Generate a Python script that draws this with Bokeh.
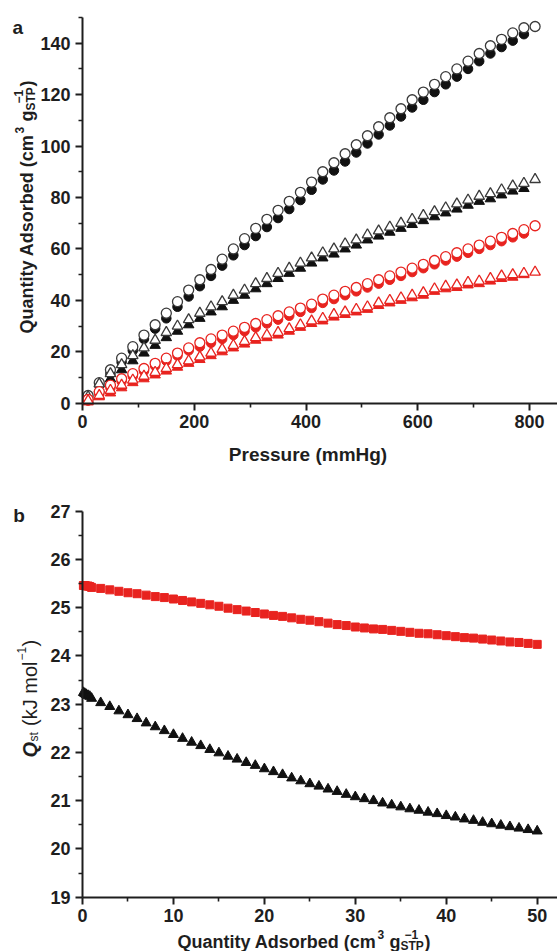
import math
from bokeh.plotting import figure
from bokeh.layouts import column
from bokeh.models import Range1d, FixedTicker, Label
from bokeh.embed import file_html
from bokeh.resources import INLINE

# ---------------- panel a data ----------------
P_OPEN = [10, 30, 50, 70, 90, 110, 130, 150, 170, 190, 210, 230, 250, 270, 290, 310, 330, 350, 370, 390,
          410, 430, 450, 470, 490, 510, 530, 550, 570, 590, 610, 630, 650, 670, 690, 710, 730, 750, 770, 790, 810]
P_FILLED = [10, 30, 50, 70, 90, 110, 130, 150, 170, 190, 210, 230, 250, 270, 290, 310, 330, 350, 370, 390,
            410, 430, 450, 470, 490, 510, 530, 550, 570, 590, 610, 630, 650, 670, 690, 710, 730, 750, 770, 790]

BLACK_OPEN_CIRCLE = [3, 8, 13, 17.5, 22, 26.5, 30.5, 35, 39.5, 44, 48, 52, 56, 60, 64, 68, 71.5, 75, 78.5, 82,
                     86, 90, 93.5, 97, 100.5, 104, 107.5, 111, 114.5, 118, 121, 124, 127, 130, 133, 136, 139,
                     141.5, 144, 146, 146.5]
BLACK_FILLED_CIRCLE = [2.5, 7, 11.5, 16, 20.5, 25, 29, 33, 37.5, 41.5, 45.5, 49.5, 53.5, 57.5, 61.5, 65, 68.5,
                       72, 75.5, 79, 83, 87, 90.5, 94, 97.5, 101, 104.5, 108, 111.5, 115, 118, 121, 124, 127,
                       130, 133, 136, 138.5, 141, 143.5]
BLACK_OPEN_TRI = [2.5, 7.5, 11.5, 15, 18.5, 21.5, 24.5, 27.5, 30, 32.5, 35, 37.5, 39.5, 42, 44, 46.5, 48.5, 50.5,
                  52.5, 54.5, 56.5, 58.5, 60, 62, 63.5, 65.5, 67, 68.5, 70, 71.5, 73, 74.5, 76, 77.5, 79, 80.5,
                  81.5, 83, 84.5, 85.5, 87]
BLACK_FILLED_TRI = [1.5, 5.5, 9.5, 13, 16.5, 19.5, 22.5, 25.5, 28, 30.5, 33, 35.5, 37.5, 40, 42, 44.5, 46.5, 48.5,
                    50.5, 52.5, 54.5, 56.5, 58, 60, 61.5, 63.5, 65, 66.5, 68, 69.5, 71, 72.5, 74, 75.5, 77, 78.5,
                    79.5, 81, 82.5, 83.5]
RED_OPEN_CIRCLE = [1.5, 4.5, 7, 9.5, 11.5, 13.5, 15.5, 17.5, 19.5, 21.5, 23.5, 25, 26.5, 28, 29.5, 31, 32.5, 34,
                   35.5, 37, 38.5, 40.5, 42, 43.5, 45, 46.5, 48, 49.5, 51, 52.5, 54, 55.5, 57, 58.5, 60, 61.5,
                   63, 64.5, 66, 67.5, 69]
RED_FILLED_CIRCLE = [1, 3.5, 6, 8.5, 10.5, 12.5, 14.5, 16.5, 18.5, 20.5, 22, 23.5, 25, 26.5, 28, 29.5, 31, 32.5,
                     34, 35.5, 37, 39, 40.5, 42, 43.5, 45, 46.5, 48, 49.5, 51, 52.5, 54, 55.5, 57, 58.5, 60,
                     61.5, 63, 64.5, 66]
RED_OPEN_TRI = [1, 3, 5, 7, 9, 10.5, 12, 13.5, 15, 16.5, 18, 19.5, 21, 22.5, 24, 25.5, 26.5, 27.5, 29, 30.5, 32,
                33, 34.5, 35.5, 36.5, 37.5, 39, 40, 41, 42, 43, 44.5, 45.5, 46, 47, 47.5, 48.5, 49.5, 50, 50.5, 51]
RED_FILLED_TRI = [0.5, 2.5, 4, 6, 8, 9.5, 11, 12.5, 14, 15.5, 17, 18.5, 20, 21.5, 23, 24.5, 25.5, 26.5, 28, 29.5,
                  31, 32, 33.5, 34.5, 35.5, 36.5, 38, 39, 40, 41, 42, 43.5, 44.5, 45, 46, 46.5, 47.5, 48.5, 49, 50]

A_X_TICKS = [0, 200, 400, 600, 800]
A_X_MINOR = [100, 300, 500, 700]
A_Y_TICKS = [0, 20, 40, 60, 80, 100, 120, 140]
A_Y_MINOR = [10, 30, 50, 70, 90, 110, 130, 150]

# ---------------- panel b data ----------------
Q_ADS = [0.1, 0.25, 0.4, 0.6, 0.8, 1, 2, 3, 4, 5, 6, 7, 8, 9, 10, 11, 12, 13, 14, 15, 16, 17, 18, 19, 20,
         21, 22, 23, 24, 25, 26, 27, 28, 29, 30, 31, 32, 33, 34, 35, 36, 37, 38, 39, 40, 41, 42, 43, 44, 45,
         46, 47, 48, 49, 50]
QST_RED = [25.46, 25.46, 25.45, 25.45, 25.44, 25.42, 25.40, 25.37, 25.34, 25.31, 25.29, 25.26, 25.23, 25.21,
           25.18, 25.15, 25.12, 25.09, 25.06, 25.03, 24.99, 24.96, 24.93, 24.90, 24.87, 24.84, 24.82, 24.79,
           24.76, 24.74, 24.71, 24.68, 24.65, 24.63, 24.60, 24.58, 24.56, 24.55, 24.53, 24.51, 24.49, 24.47,
           24.46, 24.44, 24.42, 24.40, 24.38, 24.37, 24.35, 24.33, 24.31, 24.29, 24.28, 24.26, 24.24]
QST_BLACK = [23.24, 23.22, 23.20, 23.18, 23.16, 23.12, 23.03, 22.95, 22.86, 22.78, 22.70, 22.61, 22.53, 22.45,
             22.37, 22.29, 22.21, 22.14, 22.06, 21.99, 21.92, 21.86, 21.79, 21.73, 21.66, 21.60, 21.54, 21.47,
             21.41, 21.35, 21.30, 21.24, 21.19, 21.13, 21.08, 21.04, 21.00, 20.95, 20.91, 20.87, 20.83, 20.80,
             20.76, 20.73, 20.69, 20.66, 20.62, 20.59, 20.55, 20.52, 20.49, 20.46, 20.43, 20.40, 20.37]

B_X_TICKS = [0, 10, 20, 30, 40, 50]
B_X_MINOR = [5, 15, 25, 35, 45]
B_Y_TICKS = [19, 20, 21, 22, 23, 24, 25, 26, 27]
B_Y_MINOR = [19.5, 20.5, 21.5, 22.5, 23.5, 24.5, 25.5, 26.5]

FONT = "Liberation Sans"
INK = "#1e1e1e"
BLACK = "#111111"
RED = "#e8231f"

# ---------------- layout (pixels) ----------------
W = 557
H1 = 478
H2 = 473
AX_LEFT = 82            # pixel column of the y axes
A_PX_PER_X = 447.0 / 800.0
A_Y_BOT_PX, A_PX_PER_Y = 402.7, 360.0 / 140.0
B_PX_PER_X = 454.7 / 50.0
B_Y_BOT_PX, B_PX_PER_Y = 896.7 - H1, 386.0 / 8.0


def style_axes(p, xt, xm, yt, ym, xloc, yloc, xb, yb):
    p.xaxis.ticker = FixedTicker(ticks=xt, minor_ticks=xm)
    p.yaxis.ticker = FixedTicker(ticks=yt, minor_ticks=ym)
    p.xaxis.fixed_location = xloc
    p.yaxis.fixed_location = yloc
    p.xaxis.bounds = xb
    p.yaxis.bounds = yb
    for ax in (p.xaxis[0], p.yaxis[0]):
        ax.axis_line_width = 2
        ax.axis_line_color = INK
        ax.major_tick_line_width = 2
        ax.major_tick_line_color = INK
        ax.minor_tick_line_width = 1.6
        ax.minor_tick_line_color = INK
        ax.major_tick_out = 7
        ax.major_tick_in = 0
        ax.minor_tick_out = 4
        ax.minor_tick_in = 0
        ax.major_label_text_font = FONT
        ax.major_label_text_font_size = "18px"
        ax.major_label_text_font_style = "bold"
        ax.major_label_text_color = INK
    p.xaxis.major_label_standoff = 5
    p.yaxis.major_label_standoff = 5
    p.xgrid.visible = False
    p.ygrid.visible = False
    p.outline_line_color = None
    p.background_fill_color = "white"
    p.border_fill_color = "white"
    p.title.visible = False


def lab(p, x, y, text, size, style="bold", angle=0.0, align="left"):
    p.add_layout(Label(x=x, y=y, x_units="screen", y_units="screen", text=text,
                       text_font=FONT, text_font_size=size, text_font_style=style,
                       text_color=INK, angle=angle, angle_units="rad",
                       text_align=align, text_baseline="alphabetic"))


# ---------------- panel a ----------------
ax_start = -AX_LEFT / A_PX_PER_X
ax_end = (W - AX_LEFT) / A_PX_PER_X
ay_start = -(H1 - A_Y_BOT_PX) / A_PX_PER_Y
ay_end = A_Y_BOT_PX / A_PX_PER_Y
pa = figure(width=W, height=H1, x_range=Range1d(ax_start, ax_end), y_range=Range1d(ay_start, ay_end),
            output_backend="svg", toolbar_location=None,
            min_border_left=0, min_border_right=0, min_border_top=0, min_border_bottom=0)
style_axes(pa, A_X_TICKS, A_X_MINOR, A_Y_TICKS, A_Y_MINOR, 0, 0, (0, ax_end), (0, 150))

pa.scatter(P_FILLED, BLACK_FILLED_CIRCLE, marker="circle", size=9.5, fill_color=BLACK, line_color=BLACK)
pa.scatter(P_OPEN, BLACK_OPEN_CIRCLE, marker="circle", size=10, fill_color="white", line_color="#3a3a3a", line_width=1.3)
pa.scatter(P_FILLED, BLACK_FILLED_TRI, marker="triangle", size=10.5, fill_color=BLACK, line_color=BLACK)
pa.scatter(P_OPEN, BLACK_OPEN_TRI, marker="triangle", size=10.5, fill_color="white", line_color="#3a3a3a", line_width=1.3)
pa.scatter(P_FILLED, RED_FILLED_CIRCLE, marker="circle", size=9.5, fill_color=RED, line_color=RED)
pa.scatter(P_OPEN, RED_OPEN_CIRCLE, marker="circle", size=10, fill_color="white", line_color=RED, line_width=1.3)
pa.scatter(P_FILLED, RED_FILLED_TRI, marker="triangle", size=10.5, fill_color=RED, line_color=RED)
pa.scatter(P_OPEN, RED_OPEN_TRI, marker="triangle", size=10.5, fill_color="white", line_color=RED, line_width=1.3)

up = math.pi / 2
lab(pa, 12, H1 - 27, "a", "19px")
lab(pa, 307.5, H1 - 454, "Pressure (mmHg)", "19px", align="center")
lab(pa, 26, H1 - 333, "Quantity Adsorbed (cm", "18px", angle=up)
lab(pa, 19, H1 - 133, "3", "12px", angle=up)
lab(pa, 26, H1 - 121, "g", "18px", angle=up)
lab(pa, 30, H1 - 110, "STP", "12px", angle=up)
lab(pa, 18, H1 - 103, "\u22121", "12px", angle=up)
lab(pa, 26, H1 - 86, ")", "18px", angle=up)

# ---------------- panel b ----------------
bx_start = -AX_LEFT / B_PX_PER_X
bx_end = (W - AX_LEFT) / B_PX_PER_X
by_start = 19 - (H2 - B_Y_BOT_PX) / B_PX_PER_Y
by_end = 19 + B_Y_BOT_PX / B_PX_PER_Y
pb = figure(width=W, height=H2, x_range=Range1d(bx_start, bx_end), y_range=Range1d(by_start, by_end),
            output_backend="svg", toolbar_location=None,
            min_border_left=0, min_border_right=0, min_border_top=0, min_border_bottom=0)
style_axes(pb, B_X_TICKS, B_X_MINOR, B_Y_TICKS, B_Y_MINOR, 19, 0, (0, bx_end), (19, 27))

pb.scatter(Q_ADS, QST_RED, marker="square", size=8, fill_color=RED, line_color=RED)
pb.scatter(Q_ADS, QST_BLACK, marker="triangle", size=10, fill_color=BLACK, line_color=BLACK)

lab(pb, 12.7, 951 - 515, "b", "19px")
lab(pb, 177, 10, "Quantity Adsorbed (cm", "18px")
lab(pb, 377, 17, "3", "12px")
lab(pb, 389, 10, "g", "18px")
lab(pb, 400, 6, "STP", "12px")
lab(pb, 404, 17, "\u22121", "12px")
lab(pb, 424, 10, ")", "18px")

lab(pb, 29, 951 - 757, "Q", "20px", style="bold italic", angle=up)
lab(pb, 33, 951 - 741, "st", "12px", style="normal", angle=up)
lab(pb, 29, 951 - 725.5, "(kJ mol", "20px", style="normal", angle=up)
lab(pb, 21, 951 - 660, "\u22121", "12px", style="normal", angle=up)
lab(pb, 29, 951 - 646, ")", "20px", style="normal", angle=up)

layout = column(pa, pb)
open("out.html", "w").write(file_html(layout, INLINE))
